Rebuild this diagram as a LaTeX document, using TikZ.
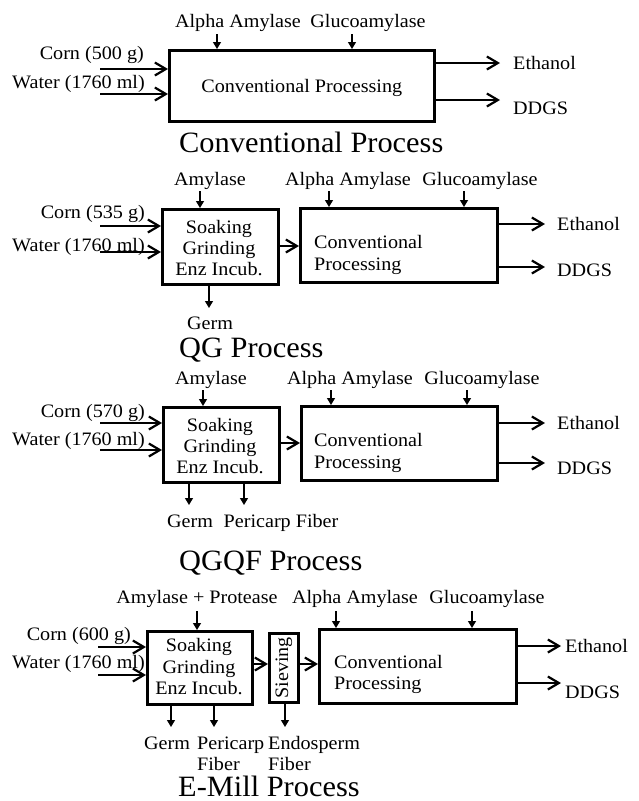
\documentclass[tikz,border=0pt]{standalone}
\usepackage{fontspec}
\setmainfont{Liberation Serif}
\newfontfamily\smallf{Liberation Serif}[FakeStretch=1.06]
\newfontfamily\titlef{Liberation Serif}[FakeStretch=1.03]
\usetikzlibrary{arrows.meta}
\tikzset{
  lbl/.style={inner sep=0pt, font=\smallf\fontsize{19}{22}\selectfont, anchor=base},
  lblw/.style={lbl, anchor=base west},
  lble/.style={lbl, anchor=base east},
  ttl/.style={inner sep=0pt, font=\titlef\fontsize{29.5}{32}\selectfont, anchor=base west},
  box/.style={draw, line width=2.6pt, inner sep=0pt, anchor=north west},
  inarr/.style={line width=1.2pt, -{Straight Barb[length=11pt,width=13pt,line width=2.2pt]}},
  enz/.style={line width=1.3pt, -{Triangle[length=7pt,width=8pt]}},
}
\begin{document}
\begin{tikzpicture}[x=1pt,y=-1pt]
\useasboundingbox (0,0) rectangle (639,801);
% ===== Section 1: Conventional =====
\node[lbl] (a1) at (238,27) {Alpha Amylase};
\node[lbl] (g1) at (368,27) {Glucoamylase};
\node[box, minimum width=265pt, minimum height=71pt] (b1) at (168,49) {};
\node[lbl] (t1) at (b1.center |- 0,92) {Conventional Processing};
\node[lble] (corn1) at (144,59) {Corn (500 g)};
\node[lble] (wat1) at (145,88) {Water (1760 ml)};
\node[lblw] (eth1) at (513,69) {Ethanol};
\node[lblw] (dd1) at (513,114) {DDGS};
\node[ttl] (T1) at (179,152) {Conventional Process};
\coordinate (ea1) at (217,34);
\coordinate (eg1) at (352,34);
\draw[enz] (ea1) -- (ea1 |- b1.north);
\draw[enz] (eg1) -- (eg1 |- b1.north);
\coordinate (ic1) at (100,69);
\coordinate (iw1) at (100,94);
\draw[inarr] (ic1) -- (ic1 -| b1.west);
\draw[inarr] (iw1) -- (iw1 -| b1.west);
\coordinate (oe1) at (500,63);
\coordinate (od1) at (500,100);
\draw[inarr] (oe1 -| b1.east) -- (oe1);
\draw[inarr] (od1 -| b1.east) -- (od1);
% ===== Section 2: QG =====
\node[lbl] (am2) at (210,185) {Amylase};
\node[lbl] (a2) at (348,185) {Alpha Amylase};
\node[lbl] (g2) at (480,185) {Glucoamylase};
\node[box, minimum width=116pt, minimum height=75pt] (s2) at (161,208) {};
\node[box, minimum width=197pt, minimum height=74pt] (b2) at (299,207) {};
\node[lbl] (s2a) at (219,233) {Soaking};
\node[lbl] (s2b) at (219,254) {Grinding};
\node[lbl] (s2c) at (219,275) {Enz Incub.};
\node[lblw] (t2a) at (314,248) {Conventional};
\node[lblw] (t2b) at (314,270) {Processing};
\node[lble] (corn2) at (145,218) {Corn (535 g)};
\node[lble] (wat2) at (145,251) {Water (1760 ml)};
\node[lblw] (eth2) at (557,230) {Ethanol};
\node[lblw] (dd2) at (557,276) {DDGS};
\node[lbl] (germ2) at (210,329) {Germ};
\node[ttl] (T2) at (179,357) {QG Process};
\coordinate (em2) at (200,191);
\coordinate (ea2) at (329,191);
\coordinate (eg2) at (464,191);
\draw[enz] (em2) -- (em2 |- s2.north);
\draw[enz] (ea2) -- (ea2 |- b2.north);
\draw[enz] (eg2) -- (eg2 |- b2.north);
\coordinate (ic2) at (100,226);
\coordinate (iw2) at (100,252);
\draw[inarr] (ic2) -- (ic2 -| s2.west);
\draw[inarr] (iw2) -- (iw2 -| s2.west);
\coordinate (m2) at (0,246);
\draw[inarr] (m2 -| s2.east) -- (m2 -| b2.west);
\coordinate (oe2) at (545,224);
\coordinate (od2) at (545,267);
\draw[inarr] (oe2 -| b2.east) -- (oe2);
\draw[inarr] (od2 -| b2.east) -- (od2);
\coordinate (og2) at (209,308);
\draw[enz] (og2 |- s2.south) -- (og2);
% ===== Section 3: QGQF =====
\node[lbl] (am3) at (211,384) {Amylase};
\node[lbl] (a3) at (350,384) {Alpha Amylase};
\node[lbl] (g3) at (482,384) {Glucoamylase};
\node[box, minimum width=116pt, minimum height=75pt] (s3) at (162,406) {};
\node[box, minimum width=196pt, minimum height=74pt] (b3) at (300,405) {};
\node[lbl] (s3a) at (220,431) {Soaking};
\node[lbl] (s3b) at (220,452) {Grinding};
\node[lbl] (s3c) at (220,473) {Enz Incub.};
\node[lblw] (t3a) at (314,446) {Conventional};
\node[lblw] (t3b) at (314,468) {Processing};
\node[lble] (corn3) at (145,417) {Corn (570 g)};
\node[lble] (wat3) at (145,445) {Water (1760 ml)};
\node[lblw] (eth3) at (557,429) {Ethanol};
\node[lblw] (dd3) at (557,474) {DDGS};
\node[lbl] (germ3) at (190,527) {Germ};
\node[lbl] (per3) at (281,527) {Pericarp Fiber};
\node[ttl] (T3) at (179,570) {QGQF Process};
\coordinate (em3) at (203,390);
\coordinate (ea3) at (331,390);
\coordinate (eg3) at (467,390);
\draw[enz] (em3) -- (em3 |- s3.north);
\draw[enz] (ea3) -- (ea3 |- b3.north);
\draw[enz] (eg3) -- (eg3 |- b3.north);
\coordinate (ic3) at (100,423);
\coordinate (iw3) at (100,450);
\draw[inarr] (ic3) -- (ic3 -| s3.west);
\draw[inarr] (iw3) -- (iw3 -| s3.west);
\coordinate (m3) at (0,443);
\draw[inarr] (m3 -| s3.east) -- (m3 -| b3.west);
\coordinate (oe3) at (545,423);
\coordinate (od3) at (545,463);
\draw[inarr] (oe3 -| b3.east) -- (oe3);
\draw[inarr] (od3 -| b3.east) -- (od3);
\coordinate (og3) at (189,505);
\coordinate (op3) at (244,505);
\draw[enz] (og3 |- s3.south) -- (og3);
\draw[enz] (op3 |- s3.south) -- (op3);
% ===== Section 4: E-Mill =====
\node[lbl] (am4) at (197,603) {Amylase + Protease};
\node[lbl] (a4) at (355,603) {Alpha Amylase};
\node[lbl] (g4) at (487,603) {Glucoamylase};
\node[box, minimum width=105pt, minimum height=73pt] (s4) at (146,630) {};
\node[box, minimum width=29pt, minimum height=69pt] (v4) at (268,632) {};
\node[box, minimum width=197pt, minimum height=74pt] (b4) at (318,628) {};
\node[lbl] (s4a) at (199,651) {Soaking};
\node[lbl] (s4b) at (199,673) {Grinding};
\node[lbl] (s4c) at (199,694) {Enz Incub.};
\node[inner sep=0pt, font=\smallf\fontsize{19}{22}\selectfont, rotate=90] (v4t) at (v4.center) {Sieving};
\node[lblw] (t4a) at (334,668) {Conventional};
\node[lblw] (t4b) at (334,689) {Processing};
\node[lble] (corn4) at (131,640) {Corn (600 g)};
\node[lble] (wat4) at (145,668) {Water (1760 ml)};
\node[lblw] (eth4) at (565,652) {Ethanol};
\node[lblw] (dd4) at (565,698) {DDGS};
\node[lbl] (germ4) at (167,749) {Germ};
\node[lblw] (per4) at (197,749) {Pericarp};
\node[lblw] (fib4) at (197,770) {Fiber};
\node[lblw] (end4) at (268,749) {Endosperm};
\node[lblw] (fib4b) at (268,770) {Fiber};
\node[ttl] (T4) at (178,796) {E-Mill Process};
\coordinate (em4) at (197,611);
\coordinate (ea4) at (336,611);
\coordinate (eg4) at (472,611);
\draw[enz] (em4) -- (em4 |- s4.north);
\draw[enz] (ea4) -- (ea4 |- b4.north);
\draw[enz] (eg4) -- (eg4 |- b4.north);
\coordinate (ic4) at (98,647);
\coordinate (iw4) at (98,675);
\draw[inarr] (ic4) -- (ic4 -| s4.west);
\draw[inarr] (iw4) -- (iw4 -| s4.west);
\coordinate (m4) at (0,664);
\draw[inarr] (m4 -| s4.east) -- (m4 -| v4.west);
\draw[inarr] (m4 -| v4.east) -- (m4 -| b4.west);
\coordinate (oe4) at (561,646);
\coordinate (od4) at (561,683);
\draw[inarr] (oe4 -| b4.east) -- (oe4);
\draw[inarr] (od4 -| b4.east) -- (od4);
\coordinate (og4) at (171,727);
\coordinate (op4) at (214,727);
\coordinate (oz4) at (285,727);
\draw[enz] (og4 |- s4.south) -- (og4);
\draw[enz] (op4 |- s4.south) -- (op4);
\draw[enz] (oz4 |- v4.south) -- (oz4);
\end{tikzpicture}
\end{document}
